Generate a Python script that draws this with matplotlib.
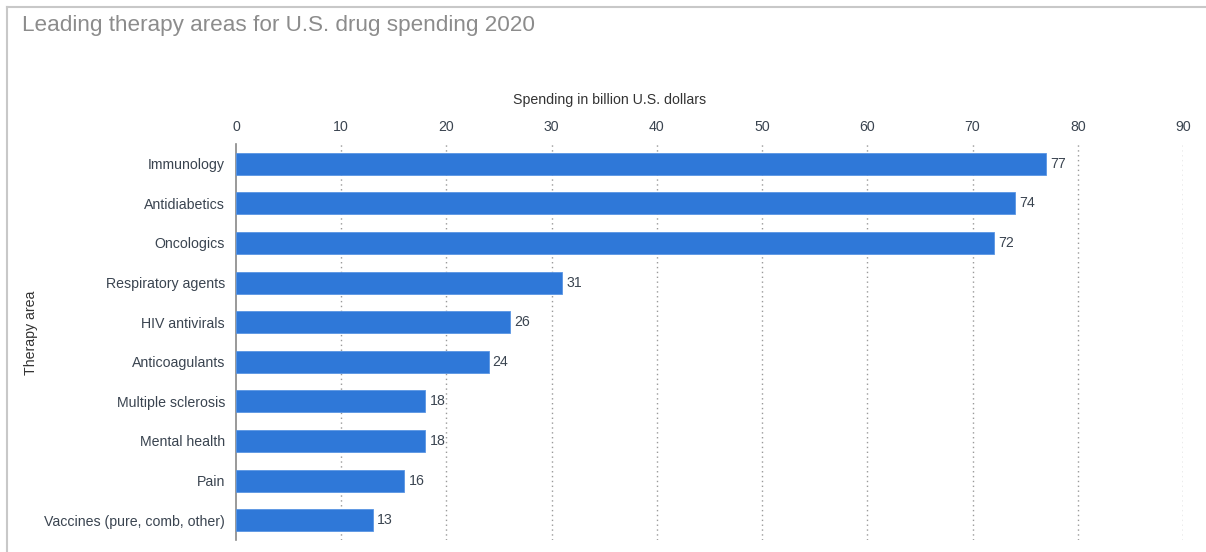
import matplotlib
matplotlib.use("Agg")
import matplotlib.pyplot as plt
from matplotlib.lines import Line2D

categories = ["Immunology", "Antidiabetics", "Oncologics", "Respiratory agents",
              "HIV antivirals", "Anticoagulants", "Multiple sclerosis", "Mental health",
              "Pain", "Vaccines (pure, comb, other)"]
values = [77, 74, 72, 31, 26, 24, 18, 18, 16, 13]
xticks = [0, 10, 20, 30, 40, 50, 60, 70, 80, 90]

plt.rcParams['font.family'] = ['Liberation Sans', 'DejaVu Sans']

W, H = 1206, 552
fs = 10.2
fig = plt.figure(figsize=(W / 100, H / 100), dpi=100)
ax = fig.add_axes([236 / W, 1 - 540 / H, (1183 - 236) / W, (540 - 144) / H])

ypos = list(range(len(categories)))
ax.barh(ypos, values, height=0.56, color="#2f78d8", edgecolor="#5a95e3", linewidth=0.6, zorder=3)
ax.set_ylim(len(categories) - 0.5, -0.5)
ax.set_xlim(0, 90)
ax.set_yticks(ypos)
ax.set_yticklabels(categories, fontsize=fs, color="#3a4450")
ax.set_xticks(xticks)
ax.set_xticklabels([str(t) for t in xticks], fontsize=fs, color="#3a4450")
ax.xaxis.tick_top()
ax.tick_params(axis="both", length=0, pad=8)
ax.tick_params(axis="x", pad=7)

for t in xticks[1:]:
    ax.axvline(t, color="#999999", linestyle=(0, (1, 2.5)), linewidth=1.0, zorder=1)

for s in ["top", "right", "bottom"]:
    ax.spines[s].set_visible(False)
ax.spines["left"].set_color("#888888")
ax.spines["left"].set_linewidth(1.2)

for y, v in zip(ypos, values):
    ax.text(v + 0.4, y, str(v), va="center", ha="left", fontsize=fs, color="#3a4450", zorder=4)

fig.text(610 / W, 1 - 100 / H, "Spending in billion U.S. dollars", ha="center", va="center",
         fontsize=fs, color="#333333")
fig.text(31 / W, 1 - 333 / H, "Therapy area", ha="center", va="center", rotation=90,
         fontsize=fs, color="#333333")
fig.text(22 / W, 1 - 26 / H, "Leading therapy areas for U.S. drug spending 2020", ha="left",
         va="center", fontsize=16.2, color="#8c8c8c")

# frame lines (left and top)
fig.add_artist(Line2D([7 / W, 7 / W], [0, 1 - 7 / H], transform=fig.transFigure, color="#c8c8c8", linewidth=1.5))
fig.add_artist(Line2D([7 / W, 1], [1 - 7 / H, 1 - 7 / H], transform=fig.transFigure, color="#c8c8c8", linewidth=1.5))

fig.savefig("out.png", dpi=100)
